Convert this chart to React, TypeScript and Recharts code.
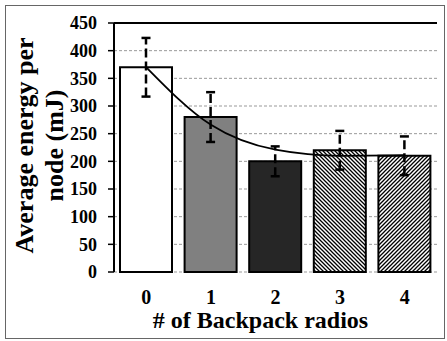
import { Bar, CartesianGrid, Cell, ComposedChart, ErrorBar, Label, Line, ReferenceLine, XAxis, YAxis } from "recharts"

const radios = ["0", "1", "2", "3", "4"]
const energy = [370, 280, 200, 220, 210]
const energyErr = [53, 45, 27, 35, 35]
const trend = [370, 266, 221, 210, 211]
const yTicks = [0, 50, 100, 150, 200, 250, 300, 350, 400, 450]
const edgeTicks = [-0.5, 0.5, 1.5, 2.5, 3.5, 4.5]
const barFills = ["#ffffff", "#808080", "#262626", "url(#hatchBack)", "url(#hatchFwd)"]

const data = radios.map((r, i) => ({ radios: r, energy: energy[i], err: energyErr[i], trend: trend[i] }))

const serif = "Liberation Serif, Times New Roman, serif"

function YTitle({ viewBox }: any) {
  const cy = viewBox.y + viewBox.height / 2 - 2
  return (
    <text
      transform={`translate(0, ${cy}) rotate(-90)`}
      textAnchor="middle"
      style={{ fontFamily: serif, fontWeight: "bold", fontSize: 26 }}
      fill="#000"
    >
      <tspan x={0} y={33}>Average energy per</tspan>
      <tspan x={0} y={63}>node (mJ)</tspan>
    </text>
  )
}

function XTitle({ viewBox }: any) {
  return (
    <text
      x={viewBox.x + viewBox.width / 2 - 15}
      y={viewBox.y + 56}
      textAnchor="middle"
      style={{ fontFamily: serif, fontWeight: "bold", fontSize: 24 }}
      fill="#000"
    >
      # of Backpack radios
    </text>
  )
}

export default function App() {
  return (
    <div style={{ position: "absolute", left: 0, top: 0, width: 447, height: 341, background: "#fff" }}>
      <svg width={0} height={0} style={{ position: "absolute" }}>
        <defs>
          <pattern id="hatchBack" width={4} height={4} patternUnits="userSpaceOnUse">
            <rect width={4} height={4} fill="#fff" />
            <path d="M0,0 L4,4 M-1,3 L1,5 M3,-1 L5,1" stroke="#000" strokeWidth={1.3} />
          </pattern>
          <pattern id="hatchFwd" width={4} height={4} patternUnits="userSpaceOnUse">
            <rect width={4} height={4} fill="#fff" />
            <path d="M0,4 L4,0 M-1,1 L1,-1 M3,5 L5,3" stroke="#000" strokeWidth={1.3} />
          </pattern>
        </defs>
      </svg>
      <ComposedChart width={447} height={341} data={data} margin={{ top: 23, right: 10, bottom: 68, left: 0 }}>
        <CartesianGrid vertical={false} stroke="#999" strokeDasharray="3 2" />
        <XAxis
          xAxisId="edges"
          type="number"
          domain={[-0.5, 4.5]}
          ticks={edgeTicks}
          height={0}
          axisLine={{ stroke: "#000", strokeWidth: 2 }}
          tickLine={{ stroke: "#000", strokeWidth: 2 }}
          tickSize={5}
          tickFormatter={() => ""}
        />
        <XAxis
          dataKey="radios"
          height={1}
          axisLine={false}
          tickLine={false}
          tickSize={0}
          tickMargin={18}
          tick={{ fill: "#000", fontFamily: serif, fontWeight: "bold", fontSize: 20 }}
        >
          <Label content={XTitle} />
        </XAxis>
        <YAxis
          width={114}
          domain={[0, 450]}
          ticks={yTicks}
          interval={0}
          axisLine={{ stroke: "#000", strokeWidth: 2 }}
          tickLine={{ stroke: "#000", strokeWidth: 1.5 }}
          tickSize={6}
          tickMargin={11}
          tick={{ fill: "#000", fontFamily: serif, fontWeight: "bold", fontSize: 18 }}
        >
          <Label content={YTitle} />
        </YAxis>
        <ReferenceLine y={450} stroke="#000" strokeWidth={2} />
        <ReferenceLine x={4.5} xAxisId="edges" stroke="#000" strokeWidth={2} />
        <Bar dataKey="energy" barSize={52} stroke="#000" strokeWidth={2} isAnimationActive={false}>
          {data.map((d, i) => (
            <Cell key={d.radios} fill={barFills[i]} />
          ))}
          <ErrorBar dataKey="err" width={4.5} stroke="#000" strokeWidth={2.5} strokeDasharray="9 4" />
        </Bar>
        <Line dataKey="trend" type="monotone" stroke="#000" strokeWidth={1.8} dot={false} isAnimationActive={false} />
      </ComposedChart>
      <div
        style={{
          position: "absolute",
          left: 5,
          top: 5,
          width: 440,
          height: 334,
          border: "1.5px solid #666",
          boxSizing: "border-box",
          pointerEvents: "none",
        }}
      />
    </div>
  )
}
